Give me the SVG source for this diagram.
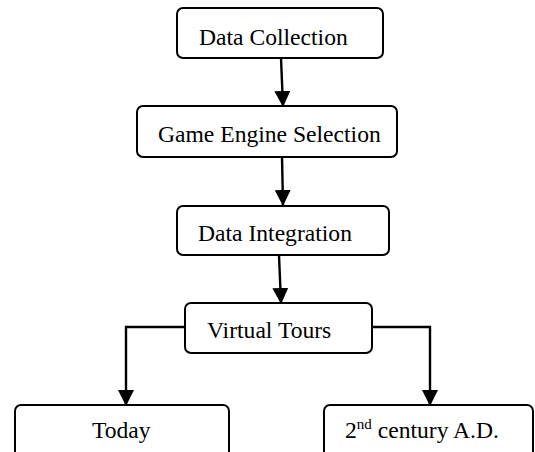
<svg xmlns="http://www.w3.org/2000/svg" width="535" height="452" viewBox="0 0 535 452">
<style>
.box{fill:#fff;stroke:#000;stroke-width:2}
.t{font-family:"Liberation Serif","Times New Roman",serif;font-size:23.6px;fill:#000}
.c{fill:none;stroke:#000;stroke-width:2.4}
</style>
<defs>
<marker id="ah" markerUnits="userSpaceOnUse" markerWidth="16" markerHeight="16" viewBox="0 0 16 16" refX="15" refY="8" orient="auto">
<path d="M0,0 L16,8 L0,16 Z" fill="#000"/>
</marker>
</defs>
<g id="connectors">
<path class="c" d="M281,58 L283,106" marker-end="url(#ah)"/>
<path class="c" d="M282,157 L283,205" marker-end="url(#ah)"/>
<path class="c" d="M279,255 L281,303" marker-end="url(#ah)"/>
<path class="c" d="M185,327 L126,327 L126,405" marker-end="url(#ah)"/>
<path class="c" d="M372,327 L430,327 L430,405" marker-end="url(#ah)"/>
</g>
<g id="n1"><rect class="box" x="177" y="8" width="206" height="50" rx="6"/><text class="t" x="199" y="45">Data Collection</text></g>
<g id="n2"><rect class="box" x="137" y="106" width="260" height="51" rx="6"/><text class="t" x="158" y="142">Game Engine Selection</text></g>
<g id="n3"><rect class="box" x="177" y="206" width="212" height="49" rx="6"/><text class="t" x="198" y="241">Data Integration</text></g>
<g id="n4"><rect class="box" x="185" y="303" width="187" height="50" rx="6"/><text class="t" x="207" y="338">Virtual Tours</text></g>
<g id="n5"><rect class="box" x="15" y="405" width="214" height="55" rx="6"/><text class="t" x="92" y="438">Today</text></g>
<g id="n6"><rect class="box" x="324" y="405" width="209" height="55" rx="6"/><text class="t" x="345" y="438">2<tspan font-size="15" dy="-9">nd</tspan><tspan dy="9"> century A.D.</tspan></text></g>
</svg>
